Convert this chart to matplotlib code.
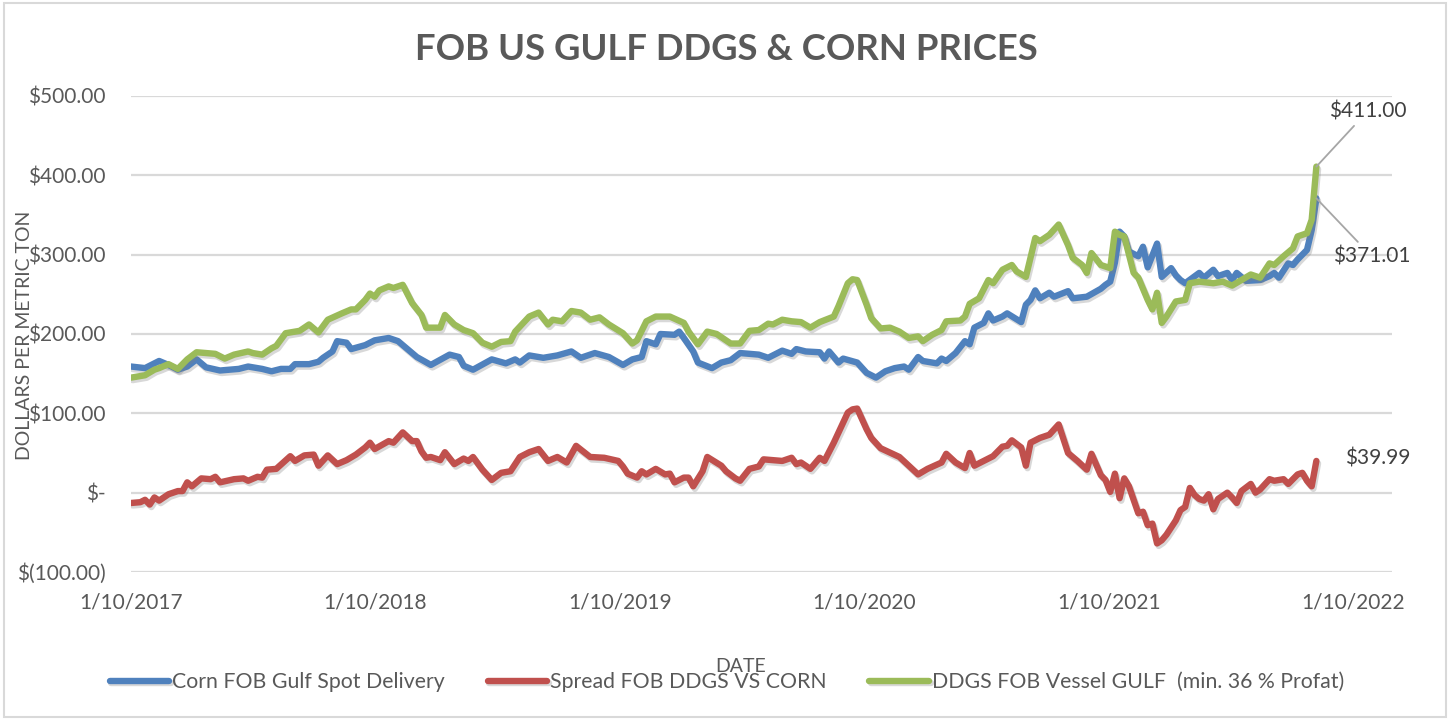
import numpy as np
import pandas as pd
import matplotlib
matplotlib.use('Agg')
from matplotlib import pyplot as plt
import matplotlib.dates as mdates
import matplotlib.patheffects as pe
from matplotlib.patches import Rectangle

plt.rcParams['font.family'] = ['Lato', 'DejaVu Sans']

#weekly data, weeks counted from the first observation (1/10/2017)
start_date = '2017-10-01'

corn_week = [0, 3, 6, 8, 10, 12, 14, 16, 19, 23, 25, 28, 30, 32, 34, 35, 38, 40, 41, 43,
             44, 46, 47, 50, 52, 55, 57, 61, 64, 68, 70, 71, 73, 77, 80, 82, 83, 85, 88, 91,
             94, 96, 99, 102, 105, 107, 109, 110, 112, 113, 116, 117, 118, 120, 121, 124, 126, 128, 130, 134,
             136, 139, 141, 142, 144, 147, 148, 149, 151, 152, 155, 157, 159, 161, 163, 165, 166, 168, 169, 172,
             173, 174, 176, 178, 179, 180, 182, 183, 184, 186, 187, 190, 191, 192, 193, 194, 196, 197, 200, 201,
             204, 207, 208, 209, 210, 211, 212, 213, 215, 216, 217, 219, 220, 222, 223, 224, 225, 228, 229, 231,
             232, 234, 235, 236, 238, 241, 243, 244, 245, 247, 248, 249, 251, 252, 253]
corn_usd = [159, 157, 166, 161, 155, 159, 168, 158, 154, 156, 159, 156, 153, 156, 156, 162, 162, 165, 170, 178,
            191, 189, 181, 186, 192, 195, 191, 171, 161, 174, 171, 160, 155, 168, 163, 168, 164, 173, 170, 173,
            178, 170, 176, 171, 161, 168, 171, 191, 187, 200, 199, 203, 195, 178, 164, 157, 164, 167, 176, 174,
            170, 179, 175, 181, 178, 177, 169, 178, 164, 169, 164, 151, 145, 153, 157, 159, 155, 171, 166, 163,
            169, 166, 176, 191, 187, 208, 214, 226, 217, 222, 226, 215, 237, 243, 255, 245, 252, 247, 254, 245,
            247, 257, 262, 266, 290, 329, 323, 304, 298, 310, 284, 314, 272, 283, 274, 268, 264, 277, 271, 281,
            273, 277, 268, 277, 267, 268, 273, 277, 271, 289, 287, 294, 306, 331, 371.01]

ddgs_week = [0, 3, 5, 6, 8, 10, 12, 14, 16, 18, 20, 22, 25, 26, 28, 30, 31, 33, 36, 38,
             40, 42, 45, 47, 48, 50, 51, 52, 53, 55, 56, 58, 60, 62, 63, 66, 67, 69, 71, 73,
             75, 77, 79, 81, 82, 85, 87, 89, 90, 92, 94, 96, 98, 100, 102, 105, 107, 108, 110, 112,
             115, 118, 119, 121, 123, 125, 128, 130, 132, 134, 136, 137, 139, 141, 143, 145, 147, 150, 151, 153,
             154, 155, 157, 158, 160, 162, 164, 166, 168, 169, 171, 173, 174, 177, 178, 179, 181, 183, 184, 186,
             188, 189, 191, 193, 194, 196, 198, 200, 201, 203, 204, 205, 207, 209, 210, 211, 212, 214, 215, 217,
             218, 219, 220, 221, 223, 225, 226, 228, 231, 233, 235, 237, 239, 241, 243, 244, 246, 248, 249, 251,
             252, 253]
ddgs_usd = [145, 148, 155, 157, 162, 156, 168, 177, 176, 175, 169, 174, 178, 176, 174, 182, 185, 201, 204, 212,
            202, 218, 226, 231, 231, 243, 251, 247, 255, 260, 258, 262, 239, 224, 208, 208, 224, 212, 205, 201,
            189, 184, 190, 191, 203, 222, 227, 212, 218, 216, 229, 227, 218, 221, 212, 201, 188, 192, 216, 222,
            222, 214, 203, 187, 203, 200, 188, 188, 204, 205, 213, 212, 218, 216, 215, 208, 215, 222, 235, 264,
            269, 268, 237, 220, 207, 208, 203, 195, 197, 191, 199, 205, 216, 217, 222, 238, 245, 268, 264, 281,
            287, 279, 272, 321, 317, 325, 338, 312, 296, 287, 277, 302, 287, 283, 329, 325, 323, 277, 271, 243,
            231, 252, 214, 222, 241, 243, 264, 266, 264, 266, 261, 268, 275, 271, 289, 287, 298, 308, 323, 327,
            344, 411.00]

spread_week = [0, 2, 3, 4, 5, 6, 8, 10, 11, 12, 13, 15, 17, 18, 19, 22, 24, 25, 27, 28,
               29, 31, 34, 35, 37, 39, 40, 42, 44, 46, 48, 50, 51, 52, 55, 56, 58, 60, 61, 62,
               63, 64, 66, 67, 69, 71, 72, 73, 75, 77, 79, 81, 83, 85, 87, 89, 91, 93, 95, 98,
               101, 104, 105, 106, 108, 109, 110, 112, 114, 115, 116, 118, 119, 120, 122, 123, 126, 127, 129, 130,
               132, 134, 135, 137, 139, 141, 142, 143, 145, 147, 148, 150, 153, 154, 155, 157, 158, 160, 164, 166,
               168, 170, 173, 174, 176, 178, 179, 180, 182, 184, 186, 187, 188, 190, 191, 192, 194, 196, 198, 200,
               202, 204, 205, 207, 208, 209, 210, 211, 212, 213, 215, 216, 217, 218, 219, 220, 221, 223, 224, 225,
               226, 227, 228, 229, 230, 231, 232, 234, 235, 236, 237, 239, 240, 241, 243, 244, 246, 247, 249, 250,
               251, 252, 253]
spread_usd = [-13, -12, -9, -15, -6, -10, -2, 2, 2, 13, 8, 18, 17, 20, 13, 17, 18, 15, 20, 19,
              29, 30, 46, 40, 47, 48, 34, 47, 36, 41, 48, 57, 63, 55, 65, 63, 76, 65, 65, 52,
              44, 45, 41, 51, 36, 43, 40, 45, 29, 16, 25, 27, 45, 51, 55, 40, 45, 38, 59, 45,
              44, 40, 33, 24, 19, 27, 23, 30, 23, 24, 13, 19, 19, 8, 27, 45, 34, 27, 18, 15,
              30, 33, 42, 41, 40, 44, 36, 38, 30, 44, 40, 63, 101, 105, 106, 80, 69, 56, 45, 34,
              23, 30, 38, 49, 38, 31, 50, 34, 40, 46, 58, 59, 66, 57, 34, 63, 69, 73, 86, 50,
              40, 29, 49, 22, 16, 1, 24, -7, 18, 8, -26, -24, -41, -39, -64, -60, -53, -35, -22, -18,
              6, -3, -8, -10, -2, -21, -8, 0, -6, -13, 2, 11, 0, 4, 17, 15, 17, 11, 23, 25,
              15, 8, 39.99]

series_names = ['Corn FOB Gulf Spot Delivery', 'Spread FOB DDGS VS CORN',
                'DDGS FOB Vessel GULF  (min. 36 % Profat)']
series_colors = ['#4F81BD', '#C0504D', '#9BBB59']

ytick_vals = [-100, 0, 100, 200, 300, 400, 500]
ytick_labels = ['$(100.00)', '$-', '$100.00', '$200.00', '$300.00', '$400.00', '$500.00']
xtick_labels = ['1/10/2017', '1/10/2018', '1/10/2019', '1/10/2020', '1/10/2021', '1/10/2022']
end_labels = ['$371.01', '$39.99', '$411.00']


def week_dates(weeks):
    return pd.Timestamp(start_date) + pd.to_timedelta(np.array(weeks) * 7, unit='D')


text_color = '#595959'
shadow = [pe.SimpleLineShadow(offset=(1.2, -1.8), shadow_color='#7f7f7f', alpha=0.3), pe.Normal()]

fig = plt.figure(figsize=(14.49, 7.19), dpi=100)
ax = fig.add_axes([131 / 1449, 1 - 572 / 719, (1392 - 131) / 1449, (572 - 96) / 719])

weeks_list = [corn_week, spread_week, ddgs_week]
values_list = [corn_usd, spread_usd, ddgs_usd]
lines = []
for weeks, vals, name, col in zip(weeks_list, values_list, series_names, series_colors):
    ln, = ax.plot(week_dates(weeks), vals, color=col, lw=4.6, label=name,
                  solid_joinstyle='round', solid_capstyle='round', path_effects=shadow)
    lines.append(ln)

#end point labels
label_offsets = [(40, -42), (44, 2), (37, 40)]
for weeks, vals, lab, off in zip(weeks_list, values_list, end_labels, label_offsets):
    x_end = week_dates(weeks)[-1]
    arrow = None
    if abs(off[1]) > 10:
        arrow = dict(arrowstyle='-', color='#A6A6A6', lw=1.3, shrinkA=2, shrinkB=0)
    ax.annotate(lab, xy=(x_end, vals[-1]), xytext=off, textcoords='offset points',
                ha='center', va='center', fontsize=15, color='#404040', arrowprops=arrow)

x0 = mdates.date2num(pd.Timestamp(start_date))
ax.set_xlim(x0, x0 + 1884)
ax.set_ylim(-100, 500)
ax.set_yticks(ytick_vals)
ax.set_yticklabels(ytick_labels)
ax.set_xticks(pd.to_datetime(xtick_labels, dayfirst=True))
ax.set_xticklabels(xtick_labels)
ax.tick_params(axis='y', length=0, pad=18, labelsize=15, labelcolor=text_color)
ax.tick_params(axis='x', length=0, pad=15, labelsize=15, labelcolor=text_color)
ax.yaxis.grid(True, color='#D9D9D9', lw=1.6)
ax.xaxis.grid(False)
ax.set_axisbelow(True)
for s in ax.spines.values():
    s.set_visible(False)

fig.text(726 / 1449, 1 - 50 / 719, 'FOB US GULF DDGS & CORN PRICES', ha='center', va='center',
         fontsize=26.3, fontweight='bold', color=text_color)
fig.text(25 / 1449, 1 - 335 / 719, 'DOLLARS PER METRIC TON', rotation=90, ha='center', va='center',
         fontsize=14, color=text_color)
fig.text(741 / 1449, 1 - 666 / 719, 'DATE', ha='center', va='center', fontsize=14, color=text_color)

fig.legend(handles=lines, loc='center', bbox_to_anchor=(727 / 1449, 1 - 682 / 719), ncol=3,
           frameon=False, fontsize=15.3, handlelength=2.8, handletextpad=0.15, columnspacing=2.0,
           labelcolor=text_color)

fig.patches.append(Rectangle((4 / 1449, 2 / 719), 1442 / 1449, 714 / 719, transform=fig.transFigure,
                             fill=False, edgecolor='#D9D9D9', lw=1.5))

fig.savefig('out.png', dpi=100)
